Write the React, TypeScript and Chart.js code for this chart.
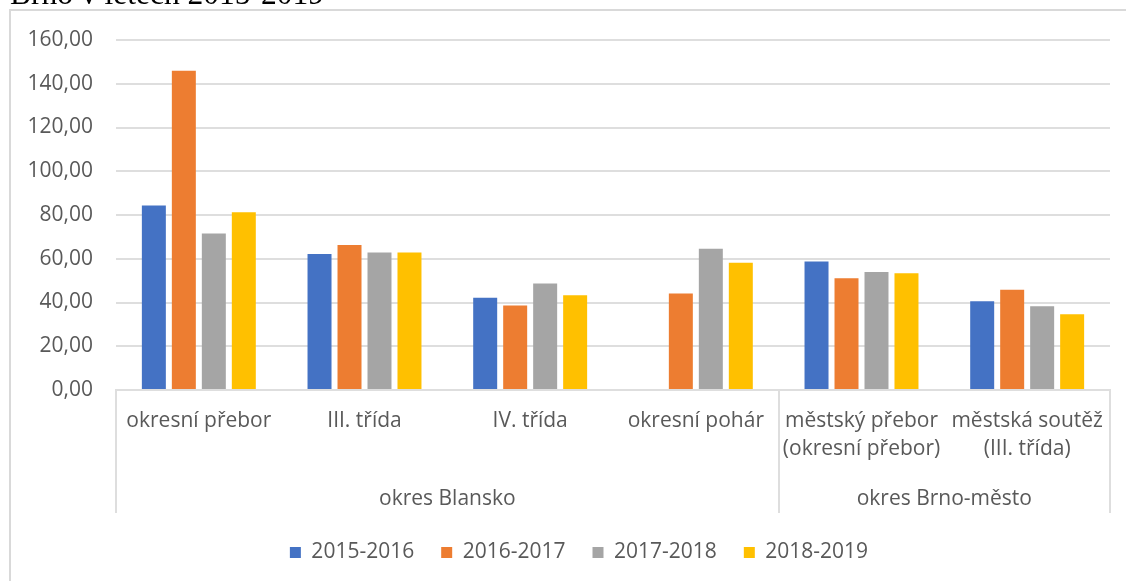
import React, { useEffect, useRef } from "react";
import { Chart, registerables } from "chart.js";

Chart.register(...registerables);

const categories: string[][] = [
  ["okresní přebor"],
  ["III. třída"],
  ["IV. třída"],
  ["okresní pohár"],
  ["městský přebor", "(okresní přebor)"],
  ["městská soutěž", "(III. třída)"],
];

const groups = [
  { label: "okres Blansko", from: 0, to: 3 },
  { label: "okres Brno-město", from: 4, to: 5 },
];

const seasons = ["2015-2016", "2016-2017", "2017-2018", "2018-2019"];

const s2015: (number | null)[] = [84.4, 62.2, 42.2, null, 58.8, 40.6];
const s2016: (number | null)[] = [145.9, 66.3, 38.6, 44.1, 51.1, 45.8];
const s2017: (number | null)[] = [71.5, 62.9, 48.7, 64.6, 54.0, 38.3];
const s2018: (number | null)[] = [81.3, 62.9, 43.3, 58.2, 53.4, 34.6];

const colors = ["#4472C4", "#ED7D31", "#A5A5A5", "#FFC000"];

const yTicks = { min: 0, max: 160, step: 20 };

const FONT = "'Open Sans', sans-serif";
const TEXT = "#595959";
const GRID = "#dedede";

const groupPlugin = {
  id: "groupLabels",
  afterLayout(chart: any) {
    const lg = chart.legend;
    if (lg) {
      lg.left += 24;
      lg.right += 24;
      lg.top += 2;
      lg.bottom += 2;
    }
  },
  afterDraw(chart: any) {
    const x = chart.scales.x;
    const ctx = chart.ctx;
    const n = chart.data.labels.length;
    const w = (x.right - x.left) / n;
    ctx.save();
    ctx.strokeStyle = GRID;
    ctx.lineWidth = 2;
    const bounds = new Set<number>();
    groups.forEach((g) => {
      bounds.add(g.from);
      bounds.add(g.to + 1);
    });
    bounds.forEach((b) => {
      const px = Math.round(x.left + b * w);
      ctx.beginPath();
      ctx.moveTo(px, x.top);
      ctx.lineTo(px, x.bottom);
      ctx.stroke();
    });
    ctx.fillStyle = TEXT;
    ctx.font = `21px ${FONT}`;
    ctx.textAlign = "center";
    ctx.textBaseline = "alphabetic";
    groups.forEach((g) => {
      const cx = x.left + ((g.from + g.to + 1) / 2) * w;
      ctx.fillText(g.label, cx, x.bottom - 8);
    });
    ctx.restore();
  },
};

export default function App() {
  const ref = useRef<HTMLCanvasElement | null>(null);
  useEffect(() => {
    if (!ref.current) return;
    const data = [s2015, s2016, s2017, s2018];
    const chart = new Chart(ref.current, {
      type: "bar",
      data: {
        labels: categories as any,
        datasets: seasons.map((s, i) => ({
          label: s,
          data: data[i] as any,
          backgroundColor: colors[i],
          borderWidth: 0,
          categoryPercentage: 0.724,
          barPercentage: 0.8,
        })),
      },
      options: {
        animation: false,
        responsive: false,
        maintainAspectRatio: false,
        layout: { padding: { top: 40, right: 16, bottom: 10, left: 0 } },
        plugins: {
          legend: {
            position: "bottom",
            labels: {
              boxWidth: 11,
              boxHeight: 11,
              padding: 27,
              color: TEXT,
              font: { family: FONT, size: 21 },
            },
          },
          tooltip: { enabled: false },
        },
        scales: {
          x: {
            grid: { display: false, drawTicks: false },
            border: { display: true, color: GRID, width: 2 },
            ticks: {
              color: TEXT,
              font: { family: FONT, size: 21, lineHeight: 28 / 21 },
              padding: 17,
              maxRotation: 0,
              minRotation: 0,
              autoSkip: false,
            },
            afterFit: (scale: any) => {
              scale.height = 123;
            },
          },
          y: {
            min: yTicks.min,
            max: yTicks.max,
            grid: { color: GRID, lineWidth: 2, drawTicks: false },
            border: { display: false },
            ticks: {
              stepSize: yTicks.step,
              color: TEXT,
              padding: 23,
              font: { family: FONT, size: 21 },
              callback: (v: any) => Number(v).toFixed(2).replace(".", ","),
            },
            afterFit: (scale: any) => {
              scale.width = 116;
            },
          },
        },
      },
      plugins: [groupPlugin],
    });
    return () => chart.destroy();
  }, []);

  return (
    <div>
      <div
        style={{
          position: "fixed",
          left: 10,
          top: -22,
          fontFamily: "'Liberation Serif', 'Times New Roman', serif",
          fontSize: 31.5,
          lineHeight: "31px",
          color: "#000",
          whiteSpace: "nowrap",
        }}
      >
        Brno v letech 2015-2019
      </div>
      <div
        style={{
          position: "fixed",
          left: 9,
          top: 9,
          width: 1117,
          height: 572,
          borderTop: "2px solid #d9d9d9",
          borderLeft: "2px solid #d9d9d9",
          boxSizing: "border-box",
        }}
      />
      <canvas
        ref={ref}
        width={1126}
        height={581}
        style={{ position: "fixed", left: 0, top: 0, width: 1126, height: 581 }}
      />
    </div>
  );
}
